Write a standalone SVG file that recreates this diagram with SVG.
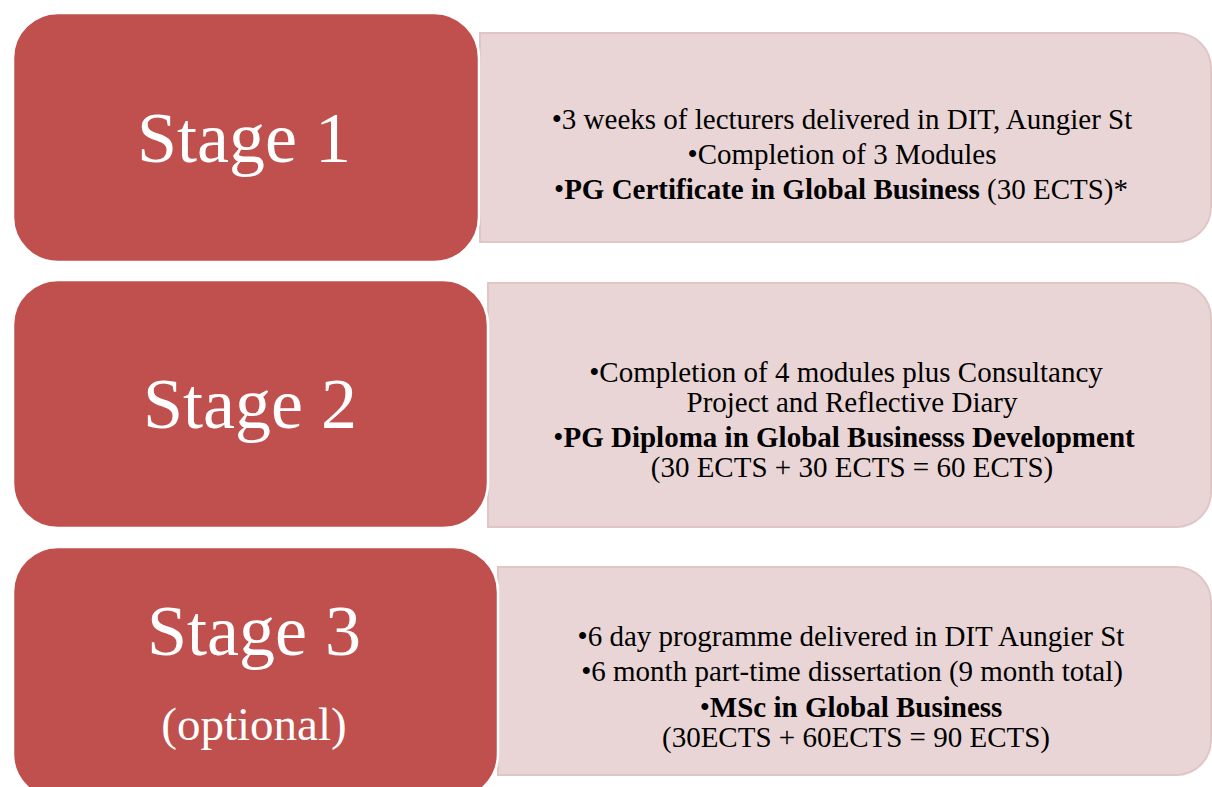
<svg xmlns="http://www.w3.org/2000/svg" width="1212" height="787" viewBox="0 0 1212 787">
  <style>
    .stage { fill: #c0504d; stroke: #ffffff; stroke-width: 2.5; }
    .detail { fill: #e9d5d5; stroke: #e0c6c6; stroke-width: 2; }
    .stage-label { font-family: "Liberation Serif", "Times New Roman", serif; fill: #ffffff; text-anchor: middle; }
    .body { font-family: "Liberation Serif", "Times New Roman", serif; font-size: 29px; fill: #000000; text-anchor: middle; }
    .b { font-weight: bold; }
  </style>
  <rect width="1212" height="787" fill="#ffffff"/>

  <!-- Stage 1 -->
  <g id="stage1-detail">
    <path class="detail" d="M480 33 H1176 A35 35 0 0 1 1211 68 V207 A35 35 0 0 1 1176 242 H480 Z"/>
    <text class="body" x="842" y="129">•3 weeks of lecturers delivered in DIT, Aungier St</text>
    <text class="body" x="842" y="164">•Completion of 3 Modules</text>
    <text class="body" x="841" y="199">•<tspan class="b">PG Certificate in Global Business</tspan> (30 ECTS)*</text>
  </g>
  <g id="stage1">
    <rect class="stage" x="13" y="13" width="466" height="249" rx="45" ry="45"/>
    <text class="stage-label" x="244" y="162" font-size="72">Stage 1</text>
  </g>

  <!-- Stage 2 -->
  <g id="stage2-detail">
    <path class="detail" d="M488 283 H1176 A35 35 0 0 1 1211 318 V492 A35 35 0 0 1 1176 527 H488 Z"/>
    <text class="body" x="846" y="382">•Completion of 4 modules plus Consultancy</text>
    <text class="body" x="852" y="412">Project and Reflective Diary</text>
    <text class="body" x="844" y="447">•<tspan class="b">PG Diploma in Global Businesss Development</tspan></text>
    <text class="body" x="852" y="477">(30 ECTS + 30 ECTS = 60 ECTS)</text>
  </g>
  <g id="stage2">
    <rect class="stage" x="13" y="280" width="475" height="248" rx="45" ry="45"/>
    <text class="stage-label" x="250" y="428" font-size="72">Stage 2</text>
  </g>

  <!-- Stage 3 -->
  <g id="stage3-detail">
    <path class="detail" d="M498 567 H1176 A35 35 0 0 1 1211 602 V740 A35 35 0 0 1 1176 775 H498 Z"/>
    <text class="body" x="851" y="646">•6 day programme delivered in DIT Aungier St</text>
    <text class="body" x="852" y="681">•6 month part-time dissertation (9 month total)</text>
    <text class="body" x="851" y="717">•<tspan class="b">MSc in Global Business</tspan></text>
    <text class="body" x="856" y="747">(30ECTS + 60ECTS = 90 ECTS)</text>
  </g>
  <g id="stage3">
    <rect class="stage" x="13" y="547" width="485" height="252" rx="45" ry="45"/>
    <text class="stage-label" x="254" y="655" font-size="72">Stage 3</text>
    <text class="stage-label" x="254" y="740" font-size="47">(optional)</text>
  </g>

  <!-- no connectors between the stages -->
  <g id="connectors"/>
</svg>
